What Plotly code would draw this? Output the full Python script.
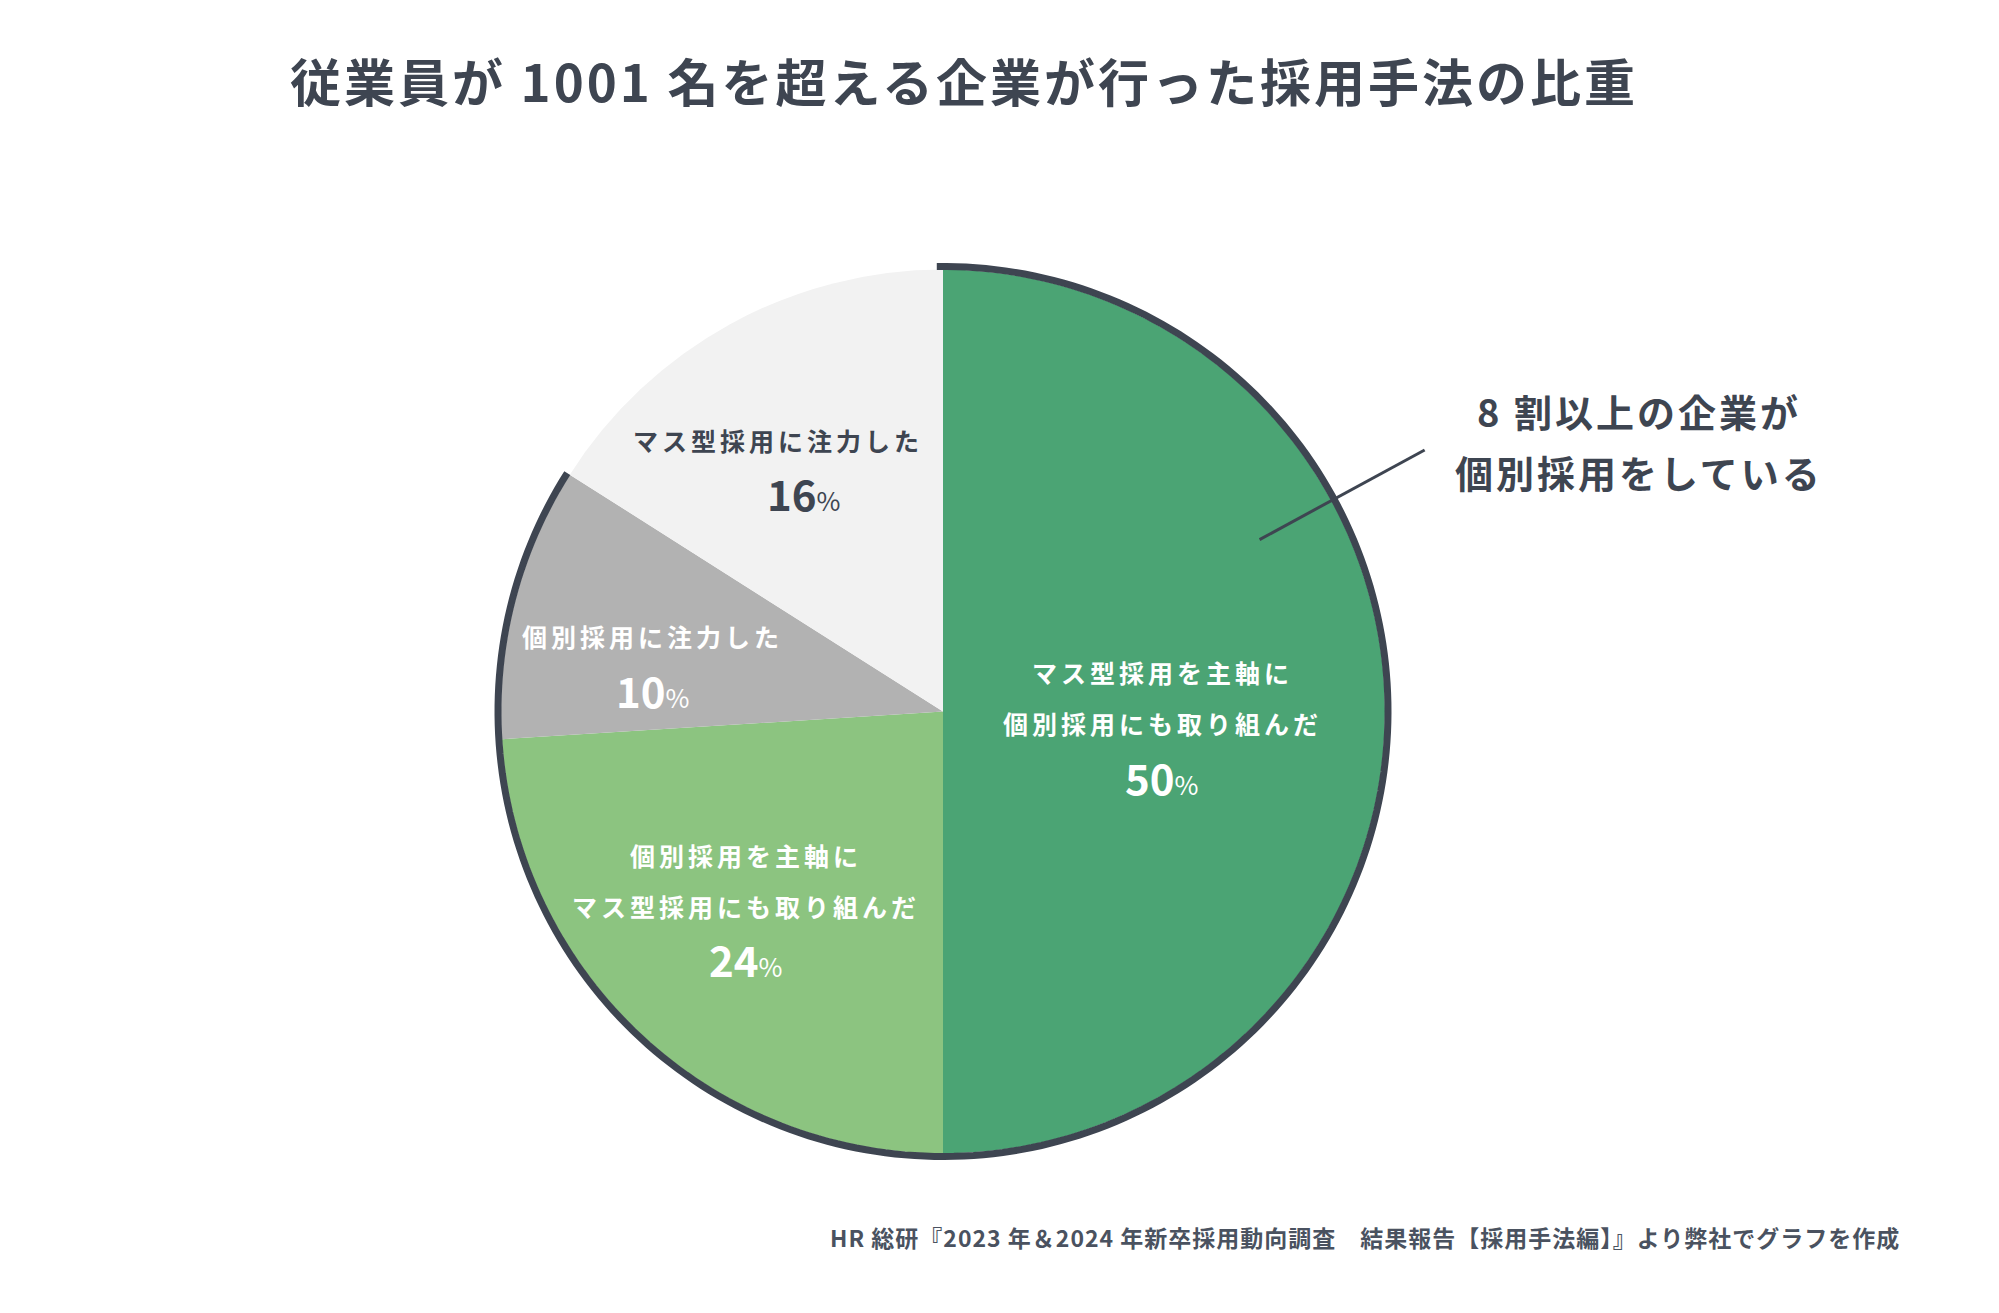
import math
import plotly.graph_objects as go

# ---------------- data ----------------
slice_names = [
    ["マス型採用を主軸に", "個別採用にも取り組んだ"],
    ["個別採用を主軸に", "マス型採用にも取り組んだ"],
    ["個別採用に注力した"],
    ["マス型採用に注力した"],
]
slice_values = [50, 24, 10, 16]
slice_colors = ["#4BA474", "#8CC480", "#B2B2B2", "#F2F2F2"]
label_colors = ["#FFFFFF", "#FFFFFF", "#FFFFFF", "#3E4551"]
title_text = "従業員が 1001 名を超える企業が行った採用手法の比重"
callout_lines = ["8 割以上の企業が", "個別採用をしている"]
source_text = "HR 総研『2023 年＆2024 年新卒採用動向調査　結果報告【採用手法編】』より弊社でグラフを作成"
outlined_slices = 3  # outline drawn around the first three slices

# ---------------- layout constants ----------------
W, H = 1999, 1313
CX, CY = 943, 711.5       # pie centre (px)
R = 442                   # pie radius (px)
DARK = "#3E4551"
FONT = "Noto Sans CJK JP"

label_r = [0.497, 0.587, 0.678, 0.72]
label_dang = [-3.6, 6.3, 0.1, -2.5]
value_dx = [0, 0, 0, 26]
line_gap = 51
value_gap = 53


def px2paper(x, y):
    return x / W, 1 - y / H


def polar(rfrac, ang):
    a = math.radians(ang)
    return CX + rfrac * R * math.sin(a), CY - rfrac * R * math.cos(a)


fig = go.Figure()
x0, y1 = px2paper(CX - R, CY - R)
x1, y0 = px2paper(CX + R, CY + R)
fig.add_trace(go.Pie(
    values=slice_values,
    labels=[" ".join(n) for n in slice_names],
    sort=False, direction="clockwise", rotation=0,
    marker=dict(colors=slice_colors, line=dict(width=0)),
    textinfo="none", hoverinfo="skip", showlegend=False,
    domain=dict(x=[x0, x1], y=[y0, y1]),
))

total = sum(slice_values)
annotations = []
shapes = []

# outline arc around the first slices
end_ang = 360 * sum(slice_values[:outlined_slices]) / total
pts = []
n = 240
for i in range(n + 1):
    ang = -0.8 + (end_ang + 0.8) * i / n
    px, py = polar((R + 3) / R, ang)
    pts.append(px2paper(px, py))
path = "M " + " L ".join(f"{p[0]:.6f},{p[1]:.6f}" for p in pts)
shapes.append(dict(type="path", path=path, xref="paper", yref="paper",
                   line=dict(color=DARK, width=7), layer="above"))

# slice labels
cum = 0
for i, v in enumerate(slice_values):
    mid = 360 * (cum + v / 2) / total
    cum += v
    bx, by = polar(label_r[i], mid + label_dang[i])
    lines = slice_names[i]
    nl = len(lines)
    for j, ln in enumerate(lines):
        ly = by + (j - (nl - 1) / 2) * line_gap
        ax, ay = px2paper(bx, ly)
        annotations.append(dict(
            x=ax, y=ay, xref="paper", yref="paper", showarrow=False,
            xanchor="center", yanchor="middle",
            text=f'<span style="letter-spacing:4px">{ln}</span>',
            font=dict(family=FONT, size=25, color=label_colors[i], weight="bold"),
        ))
    vy = by + ((nl - 1) / 2) * line_gap + value_gap
    ax, ay = px2paper(bx + value_dx[i], vy)
    annotations.append(dict(
        x=ax, y=ay, xref="paper", yref="paper", showarrow=False,
        xanchor="center", yanchor="middle",
        text=f'<b>{v}</b><span style="font-size:26px">%</span>',
        font=dict(family=FONT, size=42, color=label_colors[i]),
    ))

# title
tx, ty = px2paper(964, 80)
annotations.append(dict(
    x=tx, y=ty, xref="paper", yref="paper", showarrow=False,
    xanchor="center", yanchor="middle",
    text=f'<span style="letter-spacing:3px">{title_text}</span>',
    font=dict(family=FONT, size=51, color=DARK, weight="bold"),
))

# callout
for j, ln in enumerate(callout_lines):
    cx_, cy_ = px2paper(1639, 410 + j * 62)
    annotations.append(dict(
        x=cx_, y=cy_, xref="paper", yref="paper", showarrow=False,
        xanchor="center", yanchor="middle",
        text=f'<span style="letter-spacing:3px">{ln}</span>',
        font=dict(family=FONT, size=38, color=DARK, weight="bold"),
    ))
lx0, ly0 = px2paper(*polar(0.815, 61.5))
lx1, ly1 = px2paper(*polar(1.24, 61.5))
shapes.append(dict(type="line", x0=lx0, y0=ly0, x1=lx1, y1=ly1,
                   xref="paper", yref="paper",
                   line=dict(color=DARK, width=3), layer="above"))

# source
sx, sy = px2paper(1902, 1237)
annotations.append(dict(
    x=sx, y=sy, xref="paper", yref="paper", showarrow=False,
    xanchor="right", yanchor="middle",
    text=f'<span style="letter-spacing:1px">{source_text}</span>',
    font=dict(family=FONT, size=23, color="#4A5260", weight="bold"),
))

fig.update_layout(
    width=W, height=H,
    margin=dict(l=0, r=0, t=0, b=0),
    paper_bgcolor="white", plot_bgcolor="white",
    annotations=annotations, shapes=shapes,
    font=dict(family=FONT),
)
fig.write_html("out.html")
